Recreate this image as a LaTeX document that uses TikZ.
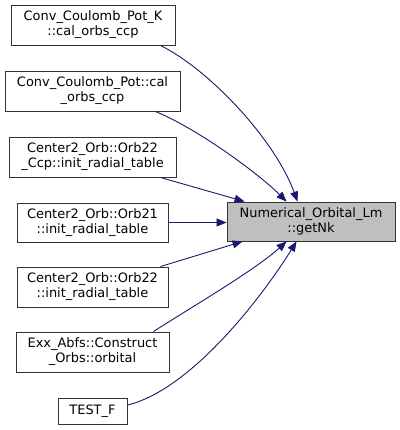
\documentclass[tikz,border=0pt]{standalone}
\usepackage{fontspec}
\setmainfont{DejaVu Sans}
\usetikzlibrary{arrows.meta}
\definecolor{edgeblue}{RGB}{25,25,112}
\definecolor{targetgray}{RGB}{191,191,191}
\begin{document}
\begin{tikzpicture}[x=1bp,y=-1bp,
  box/.style={draw=black!80, line width=0.9bp, fill=white, align=center, inner sep=0pt,
    font=\fontsize{13}{15}\selectfont, minimum height=40bp},
  tgt/.style={box, fill=targetgray},
  edge/.style={draw=edgeblue, line width=0.9bp, -{Triangle[length=10bp,width=8bp]}, fill=none}]
\useasboundingbox (0,0) rectangle (400,430);
\fill[white] (0,0) rectangle (400,430);
\node[box, minimum width=164bp] (n1) at (93,25) {Conv\_Coulomb\_Pot\_K\\::cal\_orbs\_ccp};
\node[box, minimum width=175bp] (n2) at (92.5,91) {Conv\_Coulomb\_Pot::cal\\\_orbs\_ccp};
\node[box, minimum width=167bp] (n3) at (92.5,157) {Center2\_Orb::Orb22\\\_Ccp::init\_radial\_table};
\node[box, minimum width=151bp, minimum height=39bp] (n4) at (92.5,222.5) {Center2\_Orb::Orb21\\::init\_radial\_table};
\node[box, minimum width=151bp] (n5) at (92.5,287) {Center2\_Orb::Orb22\\::init\_radial\_table};
\node[box, minimum width=153bp] (n6) at (92.5,352) {Exx\_Abfs::Construct\\\_Orbs::orbital};
\node[box, minimum width=69bp, minimum height=26bp] (n7) at (92.5,411) {TEST\_F};
\node[tgt, minimum width=168bp, minimum height=39bp] (t) at (311,221.5) {Numerical\_Orbital\_Lm\\::getNk};
\draw[edge] ([xshift=-15bp]n1.south east) .. controls (210,70) and (275,140) .. ([xshift=71bp]t.north west);
\draw[edge] ([xshift=-25bp]n2.south east) .. controls (200,130) and (260,175) .. ([xshift=60bp]t.north west);
\draw[edge] ([xshift=-16bp]n3.south east) -- ([xshift=18bp]t.north west);
\draw[edge] (n4.east) -- (n4.east -| t.west);
\draw[edge] ([xshift=-8bp]n5.north east) -- ([xshift=16bp]t.south west);
\draw[edge] ([xshift=-16bp]n6.north east) .. controls (195,305) and (255,270) .. ([xshift=60bp]t.south west);
\draw[edge] ([yshift=6bp]n7.east) .. controls (190,390) and (260,300) .. ([xshift=70bp]t.south west);
\end{tikzpicture}
\end{document}
